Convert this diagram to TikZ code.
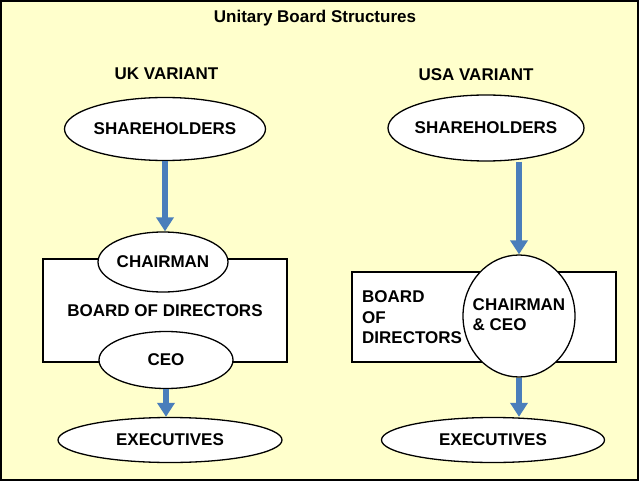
\documentclass[tikz,border=0pt]{standalone}
\usepackage{fontspec}
\setmainfont{Liberation Sans}
\usetikzlibrary{arrows.meta,shapes.geometric}
\definecolor{bg}{HTML}{FFFFCC}
\definecolor{arrowblue}{HTML}{4A7EBB}
\begin{document}
\begin{tikzpicture}[x=1pt,y=-1pt,
  box/.style={draw=black,line width=1.3pt,fill=white,inner sep=0pt,font=\fontsize{17}{21}\selectfont\bfseries},
  oval/.style={ellipse,draw=black,line width=1.3pt,fill=white,inner sep=0pt,font=\fontsize{17}{21}\selectfont\bfseries},
  lbl/.style={inner sep=0pt,font=\fontsize{17}{20.5}\selectfont\bfseries},
  flow/.style={draw=arrowblue,line width=5.5pt,-{Triangle[width=17pt,length=14pt]}}]
\useasboundingbox (0,0) rectangle (639,481);
\path[fill=bg,draw=black,line width=2pt] (1,1) rectangle (638,480);

\node[lbl] (title) at (315,18) {Unitary Board Structures};
\node[lbl] (ukv) at (166.5,73.5) {UK VARIANT};
\node[lbl] (usv) at (476,74.5) {USA VARIANT};

% UK variant
\node[oval,minimum width=201pt,minimum height=63pt] (lsh) at (165,129) {\makebox[0pt]{SHAREHOLDERS}};
\node[box,minimum width=244pt,minimum height=103pt] (lbd) at (165,310.5) {BOARD OF DIRECTORS};
\node[oval,minimum width=130pt,minimum height=60pt] (lch) at (163,262) {\makebox[0pt]{CHAIRMAN}};
\node[oval,minimum width=134pt,minimum height=57pt] (lceo) at (166,360) {\makebox[0pt]{CEO}};
\node[oval,minimum width=224pt,minimum height=45pt] (lex) at (170,440) {\makebox[0pt]{EXECUTIVES}};

\draw[flow] (lsh.south) -- (lsh.south |- lch.north);
\draw[flow] (lceo.south) -- (lceo.south |- lex.north);

% USA variant
\node[oval,minimum width=196pt,minimum height=66pt] (rsh) at (486,128) {\makebox[0pt]{SHAREHOLDERS}};
\node[box,minimum width=264pt,minimum height=90pt] (rbd) at (484,317) {};
\node[lbl,align=left,anchor=west] (rbdt) at (362,317.5) {BOARD\\OF\\DIRECTORS};
\node[oval,minimum width=112pt,minimum height=122pt] (rc) at (519,316) {\makebox[0pt]{\begin{tabular}{@{}l@{}}CHAIRMAN\\[-1pt]\& CEO\end{tabular}}};
\node[oval,minimum width=223pt,minimum height=45pt] (rex) at (493,440) {\makebox[0pt]{EXECUTIVES}};

\draw[flow] (rc.north |- rsh.south) -- (rc.north);
\draw[flow] (rc.south) -- (rc.south |- rex.north);
\end{tikzpicture}
\end{document}
